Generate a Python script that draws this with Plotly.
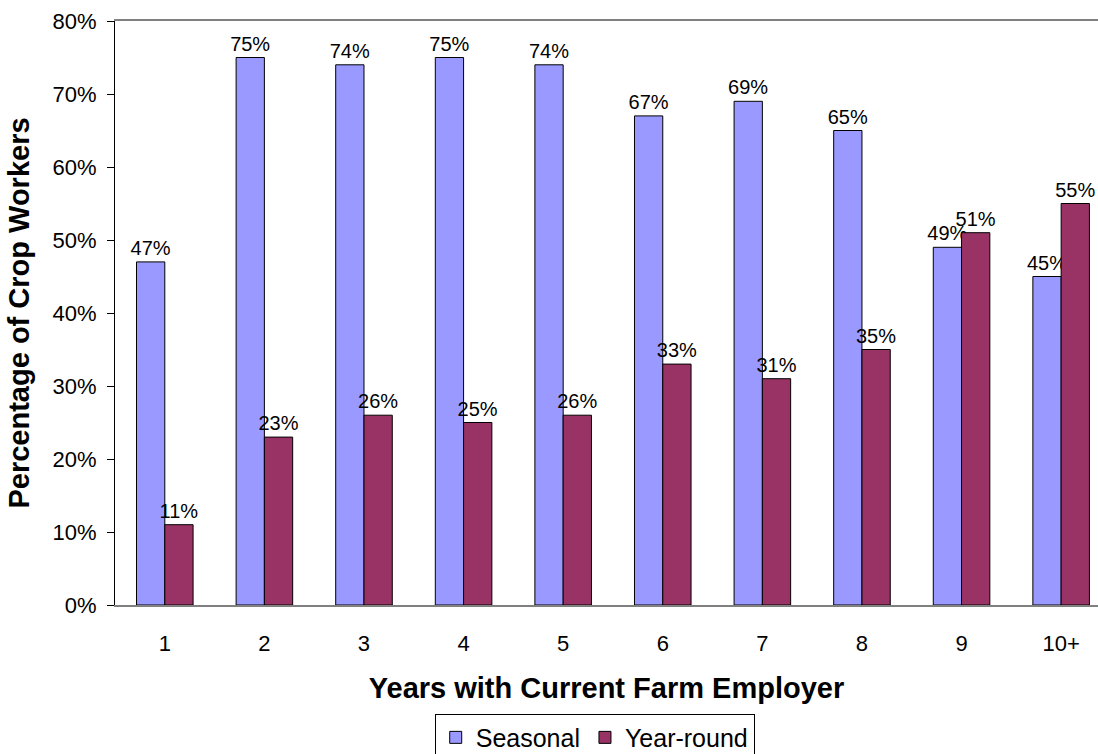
import plotly.graph_objects as go

categories = ["1", "2", "3", "4", "5", "6", "7", "8", "9", "10+"]
seasonal = [0.47, 0.75, 0.74, 0.75, 0.74, 0.67, 0.69, 0.65, 0.49, 0.45]
year_round = [0.11, 0.23, 0.26, 0.25, 0.26, 0.33, 0.31, 0.35, 0.51, 0.55]

fig = go.Figure()
fig.add_trace(go.Bar(
    x=categories, y=seasonal, name="Seasonal",
    marker=dict(color="#9999FF", line=dict(color="#000000", width=1)),
    text=[f"{v:.0%}" for v in seasonal], textposition="outside",
    textfont=dict(size=20, color="#000000"), cliponaxis=False,
    constraintext="none",
))
fig.add_trace(go.Bar(
    x=categories, y=year_round, name="Year-round",
    marker=dict(color="#993366", line=dict(color="#000000", width=1)),
    text=[f"{v:.0%}" for v in year_round], textposition="outside",
    textfont=dict(size=20, color="#000000"), cliponaxis=False,
    constraintext="none",
))

fig.update_layout(
    width=1098, height=754,
    margin=dict(l=115, r=0, t=21, b=149, autoexpand=False),
    paper_bgcolor="white", plot_bgcolor="white",
    font=dict(family="Arial, Liberation Sans, sans-serif", size=22, color="#000000"),
    barmode="group", bargap=0.432, bargroupgap=0,
    showlegend=True,
    legend=dict(
        orientation="h", x=0.488, xanchor="center", y=-0.186, yanchor="top",
        bordercolor="#000000", borderwidth=1, font=dict(size=25),
        itemwidth=30, tracegroupgap=0,
    ),
    uniformtext=dict(mode=False),
)
fig.update_xaxes(
    type="category", range=[-0.5, 9.37],
    showline=True, linecolor="#808080", linewidth=2, mirror=True,
    ticks="", tickfont=dict(size=22), ticklabelstandoff=18,
    title=dict(text="<b>Years with Current Farm Employer</b>", font=dict(size=29), standoff=22),
    showgrid=False, automargin=False,
)
fig.update_yaxes(
    range=[0, 0.8], dtick=0.1, tickformat=".0%",
    showline=True, linecolor="#000000", linewidth=1,
    ticks="outside", ticklen=7, tickcolor="#000000",
    tickfont=dict(size=22), ticklabelstandoff=6,
    title=dict(text="<b>Percentage of Crop Workers</b>", font=dict(size=29), standoff=14),
    showgrid=False, zeroline=False, automargin=False,
)

fig.write_html("out.html", config={"displayModeBar": False},
               post_script="document.body.style.margin='0';")
